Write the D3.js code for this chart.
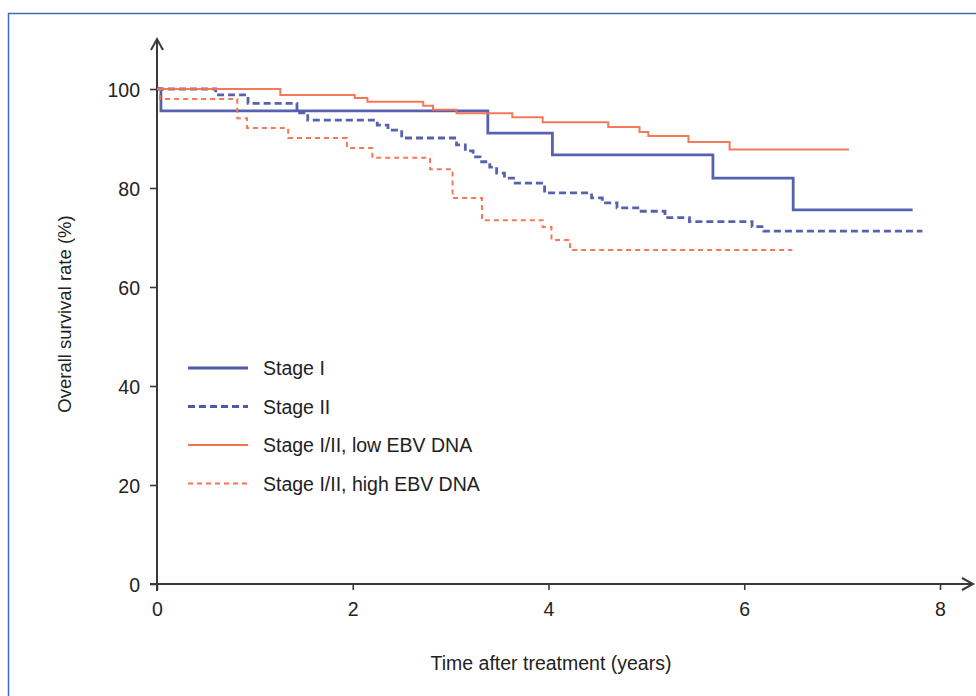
<!DOCTYPE html>
<html>
<head>
<meta charset="utf-8">
<script src="https://cdn.jsdelivr.net/npm/d3@7/dist/d3.min.js"></script>
<style>
  html, body { margin: 0; padding: 0; background: #fff; }
  svg { display: block; }
  text { font-family: "Liberation Sans", Arial, Helvetica, sans-serif; fill: #222; }
</style>
</head>
<body>
<svg id="chart" width="976" height="696"></svg>
<script>
// ---- data ----
const xTicks = [0, 2, 4, 6, 8];
const yTicks = [0, 20, 40, 60, 80, 100];

const stage1Times  = [0, 0.04, 3.38, 4.04, 5.68, 6.50, 7.72];
const stage1Values = [100, 95.6, 91.1, 86.7, 82.0, 75.6, 75.6];

const stage2Times  = [0, 0.60, 0.93, 1.43, 1.54, 2.25, 2.36, 2.50, 3.06, 3.15, 3.23, 3.30, 3.40, 3.47, 3.55, 3.66, 3.96, 4.44, 4.55, 4.70, 4.93, 5.19, 5.44, 6.08, 6.20, 7.82];
const stage2Values = [100, 98.8, 97.1, 95.2, 93.7, 92.7, 91.7, 90.1, 88.7, 87.5, 86.3, 85.3, 84.2, 83.0, 82.0, 81.0, 79.0, 78.0, 77.0, 76.0, 75.3, 74.0, 73.2, 72.2, 71.3, 71.3];

const lowTimes  = [0, 1.26, 2.02, 2.15, 2.72, 2.82, 3.06, 3.63, 3.94, 4.61, 4.93, 5.02, 5.43, 5.85, 7.07];
const lowValues = [100, 98.8, 98.2, 97.4, 96.6, 95.8, 95.1, 94.3, 93.3, 92.3, 91.3, 90.5, 89.3, 87.8, 87.8];

const highTimes  = [0, 0.03, 0.82, 0.92, 1.34, 1.94, 2.20, 2.79, 3.02, 3.32, 3.94, 4.03, 4.22, 6.49];
const highValues = [100, 98.0, 94.1, 92.1, 90.1, 88.1, 86.1, 83.8, 78.0, 73.5, 72.1, 69.5, 67.5, 67.5];

const seriesNames = ["Stage I", "Stage II", "Stage I/II, low EBV DNA", "Stage I/II, high EBV DNA"];

// ---- styles ----
const BLUE = "#4d5aab";
const ORANGE = "#f4724f";
const styles = [
  { color: BLUE,   width: 2.8, dash: null },
  { color: BLUE,   width: 2.8, dash: "7,4" },
  { color: ORANGE, width: 2.0, dash: null },
  { color: ORANGE, width: 2.0, dash: "5,4" }
];

const series = [
  d3.zip(stage1Times, stage1Values),
  d3.zip(stage2Times, stage2Values),
  d3.zip(lowTimes, lowValues),
  d3.zip(highTimes, highValues)
];

const svg = d3.select("#chart");

// frame
svg.append("rect")
  .attr("x", 8.5).attr("y", 13.5)
  .attr("width", 976).attr("height", 700)
  .attr("fill", "none").attr("stroke", "#3d6cc0").attr("stroke-width", 1.5);

const x = d3.scaleLinear().domain([0, 8]).range([157, 940]);
const y = d3.scaleLinear().domain([0, 100]).range([584, 89]);

const AX = "#3a3a3a";

// axes with D3 axis generators
const xAxis = svg.append("g")
  .attr("transform", `translate(0,${y(0)})`)
  .call(d3.axisBottom(x).tickValues(xTicks).tickSize(6).tickPadding(12).tickFormat(d3.format("d")));
const yAxis = svg.append("g")
  .attr("transform", `translate(${x(0)},0)`)
  .call(d3.axisLeft(y).tickValues(yTicks).tickSize(7).tickPadding(10).tickFormat(d3.format("d")));

[xAxis, yAxis].forEach(g => {
  g.select(".domain").remove();
  g.selectAll(".tick line").attr("stroke", AX).attr("stroke-width", 1.6);
  g.selectAll(".tick text")
    .style("font-family", '"Liberation Sans", Arial, sans-serif')
    .style("font-size", "19.5px").attr("fill", "#222");
});
yAxis.selectAll(".tick text").attr("dy", "0.36em");

// axis lines with arrows
const x0 = x(0), y0 = y(0);
svg.append("line").attr("x1", x0).attr("y1", 591).attr("x2", x0).attr("y2", 39)
  .attr("stroke", AX).attr("stroke-width", 2);
svg.append("path").attr("d", `M${x0 - 6},${50} L${x0},${39} L${x0 + 6},${50}`)
  .attr("fill", "none").attr("stroke", AX).attr("stroke-width", 2);
svg.append("line").attr("x1", 150).attr("y1", y0).attr("x2", 973).attr("y2", y0)
  .attr("stroke", AX).attr("stroke-width", 2);
svg.append("path").attr("d", `M${962},${y0 - 6} L${973},${y0} L${962},${y0 + 6}`)
  .attr("fill", "none").attr("stroke", AX).attr("stroke-width", 2);

// curves
const line = d3.line().x(d => x(d[0])).y(d => y(d[1])).curve(d3.curveStepAfter);
series.forEach((s, i) => {
  svg.append("path")
    .datum(s)
    .attr("d", line)
    .attr("fill", "none")
    .attr("stroke", styles[i].color)
    .attr("stroke-width", styles[i].width)
    .attr("stroke-dasharray", styles[i].dash)
    .attr("stroke-opacity", 0.95);
});

// axis titles
svg.append("text")
  .attr("x", 551).attr("y", 670)
  .attr("text-anchor", "middle")
  .style("font-size", "19.5px")
  .text("Time after treatment (years)");
svg.append("text")
  .attr("transform", `translate(71,314) rotate(-90)`)
  .attr("text-anchor", "middle")
  .style("font-size", "18.5px")
  .text("Overall survival rate (%)");

// legend
const legend = svg.append("g");
seriesNames.forEach((name, i) => {
  const ly = 368 + i * 38.5;
  legend.append("line")
    .attr("x1", 188).attr("x2", 248).attr("y1", ly).attr("y2", ly)
    .attr("stroke", styles[i].color)
    .attr("stroke-width", styles[i].width)
    .attr("stroke-dasharray", styles[i].dash);
  legend.append("text")
    .attr("x", 263).attr("y", ly).attr("dy", "0.36em")
    .style("font-size", "19.5px")
    .text(name);
});
</script>
</body>
</html>
